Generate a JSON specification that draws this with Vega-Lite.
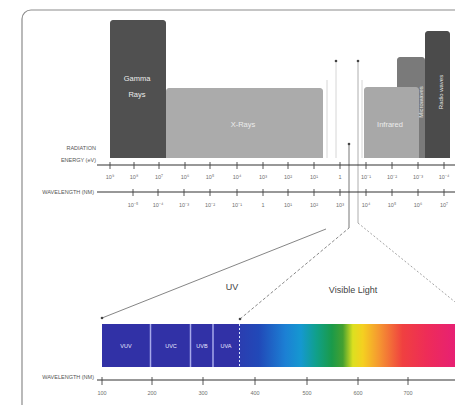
{
  "$schema": "https://vega.github.io/schema/vega-lite/v6.json",
  "width": 455,
  "height": 405,
  "autosize": "none",
  "padding": 0,
  "background": "white",
  "config": {"view": {"stroke": null}, "text": {"font": "Liberation Sans"}},
  "encoding": {
    "x": {"field": "x", "type": "quantitative", "scale": {"domain": [0, 455], "nice": false, "zero": false}, "axis": null},
    "y": {"field": "y", "type": "quantitative", "scale": {"domain": [0, 405], "nice": false, "zero": false, "reverse": true}, "axis": null}
  },
  "layer": [
    {
      "data": {"values": [{"x": 22, "x2": 485, "y": 10, "y2": 435}]},
      "mark": {"type": "rect", "fill": "white", "stroke": "#8c8c8c", "strokeWidth": 1.2, "cornerRadius": 9},
      "encoding": {"x2": {"field": "x2"}, "y2": {"field": "y2"}}
    },
    {
      "data": {"values": [
        {"x": 327, "y": 80, "y2": 158},
        {"x": 362, "y": 80, "y2": 158},
        {"x": 336, "y": 61, "y2": 158}
      ]},
      "mark": {"type": "rule", "color": "#d6d6d6", "strokeWidth": 1},
      "encoding": {"y2": {"field": "y2"}}
    },
    {
      "data": {"values": [
        {"band": "Radio waves", "x": 425, "x2": 450, "y": 31, "y2": 158},
        {"band": "Microwaves", "x": 397, "x2": 425, "y": 57, "y2": 158},
        {"band": "Infrared", "x": 364, "x2": 419, "y": 87, "y2": 158},
        {"band": "X-Rays", "x": 166, "x2": 323, "y": 88, "y2": 158},
        {"band": "Gamma Rays", "x": 110, "x2": 166, "y": 20, "y2": 158}
      ]},
      "mark": {"type": "rect", "cornerRadiusTopLeft": 3, "cornerRadiusTopRight": 3},
      "encoding": {
        "x2": {"field": "x2"},
        "y2": {"field": "y2"},
        "color": {"field": "band", "type": "nominal", "legend": null,
          "scale": {"domain": ["Gamma Rays", "X-Rays", "Infrared", "Microwaves", "Radio waves"],
                    "range": ["#505050", "#ababab", "#a8a8a8", "#7a7a7a", "#4b4b4b"]}}
      }
    },
    {
      "data": {"values": [
        {"x": 358, "y": 61, "y2": 223}
      ]},
      "mark": {"type": "rule", "color": "#999999", "strokeWidth": 0.8},
      "encoding": {"y2": {"field": "y2"}}
    },
    {
      "data": {"values": [
        {"x": 349, "y": 144, "y2": 228}
      ]},
      "mark": {"type": "rule", "color": "#666666", "strokeWidth": 0.9},
      "encoding": {"y2": {"field": "y2"}}
    },
    {
      "data": {"values": [
        {"x": 97, "x2": 455, "y": 165},
        {"x": 97, "x2": 455, "y": 192},
        {"x": 97, "x2": 455, "y": 380}
      ]},
      "mark": {"type": "rule", "color": "#333333", "strokeWidth": 1.1},
      "encoding": {"x2": {"field": "x2"}}
    },
    {
      "data": {"values": [
        {"x": 110, "y": 162, "y2": 169}, {"x": 134, "y": 162, "y2": 169}, {"x": 159, "y": 162, "y2": 169},
        {"x": 185, "y": 162, "y2": 169}, {"x": 210, "y": 162, "y2": 169}, {"x": 237, "y": 162, "y2": 169},
        {"x": 263, "y": 162, "y2": 169}, {"x": 288, "y": 162, "y2": 169}, {"x": 314, "y": 162, "y2": 169},
        {"x": 340, "y": 162, "y2": 169}, {"x": 366, "y": 162, "y2": 169}, {"x": 392, "y": 162, "y2": 169},
        {"x": 418, "y": 162, "y2": 169}, {"x": 444, "y": 162, "y2": 169},
        {"x": 133, "y": 189, "y2": 196}, {"x": 158, "y": 189, "y2": 196}, {"x": 184, "y": 189, "y2": 196},
        {"x": 210, "y": 189, "y2": 196}, {"x": 237, "y": 189, "y2": 196}, {"x": 263, "y": 189, "y2": 196},
        {"x": 288, "y": 189, "y2": 196}, {"x": 314, "y": 189, "y2": 196}, {"x": 340, "y": 189, "y2": 196},
        {"x": 366, "y": 189, "y2": 196}, {"x": 392, "y": 189, "y2": 196}, {"x": 418, "y": 189, "y2": 196},
        {"x": 444, "y": 189, "y2": 196},
        {"x": 102, "y": 377, "y2": 385}, {"x": 152, "y": 377, "y2": 385}, {"x": 203, "y": 377, "y2": 385},
        {"x": 255, "y": 377, "y2": 385}, {"x": 307, "y": 377, "y2": 385}, {"x": 358, "y": 377, "y2": 385},
        {"x": 408, "y": 377, "y2": 385}
      ]},
      "mark": {"type": "rule", "color": "#444444", "strokeWidth": 0.9},
      "encoding": {"y2": {"field": "y2"}}
    },
    {
      "data": {"values": [
        {"x": 110, "y": 177, "t": "10⁹"}, {"x": 134, "y": 177, "t": "10⁸"}, {"x": 159, "y": 177, "t": "10⁷"},
        {"x": 185, "y": 177, "t": "10⁶"}, {"x": 210, "y": 177, "t": "10⁵"}, {"x": 237, "y": 177, "t": "10⁴"},
        {"x": 263, "y": 177, "t": "10³"}, {"x": 288, "y": 177, "t": "10²"}, {"x": 314, "y": 177, "t": "10¹"},
        {"x": 340, "y": 177, "t": "1"}, {"x": 366, "y": 177, "t": "10⁻¹"}, {"x": 392, "y": 177, "t": "10⁻²"},
        {"x": 418, "y": 177, "t": "10⁻³"}, {"x": 444, "y": 177, "t": "10⁻⁴"},
        {"x": 133, "y": 205, "t": "10⁻⁵"}, {"x": 158, "y": 205, "t": "10⁻⁴"}, {"x": 184, "y": 205, "t": "10⁻³"},
        {"x": 210, "y": 205, "t": "10⁻²"}, {"x": 237, "y": 205, "t": "10⁻¹"}, {"x": 263, "y": 205, "t": "1"},
        {"x": 288, "y": 205, "t": "10¹"}, {"x": 314, "y": 205, "t": "10²"}, {"x": 340, "y": 205, "t": "10³"},
        {"x": 366, "y": 205, "t": "10⁴"}, {"x": 392, "y": 205, "t": "10⁵"}, {"x": 418, "y": 205, "t": "10⁶"},
        {"x": 444, "y": 205, "t": "10⁷"},
        {"x": 102, "y": 393, "t": "100"}, {"x": 152, "y": 393, "t": "200"}, {"x": 203, "y": 393, "t": "300"},
        {"x": 255, "y": 393, "t": "400"}, {"x": 307, "y": 393, "t": "500"}, {"x": 358, "y": 393, "t": "600"},
        {"x": 408, "y": 393, "t": "700"}
      ]},
      "mark": {"type": "text", "fontSize": 5.5, "color": "#707070", "baseline": "middle", "align": "center"},
      "encoding": {"text": {"field": "t"}}
    },
    {
      "data": {"values": [
        {"x": 96, "y": 148, "t": "RADIATION"},
        {"x": 96, "y": 160, "t": "ENERGY (eV)"},
        {"x": 94, "y": 192, "t": "WAVELENGTH (NM)"},
        {"x": 94, "y": 377, "t": "WAVELENGTH (NM)"}
      ]},
      "mark": {"type": "text", "fontSize": 5.5, "color": "#555555", "baseline": "middle", "align": "right"},
      "encoding": {"text": {"field": "t"}}
    },
    {
      "data": {"values": [
        {"x": 137, "y": 79, "t": "Gamma"},
        {"x": 137, "y": 95, "t": "Rays"},
        {"x": 243, "y": 125, "t": "X-Rays"},
        {"x": 390, "y": 125, "t": "Infrared"}
      ]},
      "mark": {"type": "text", "fontSize": 7.5, "color": "#ececec", "baseline": "middle", "align": "center"},
      "encoding": {"text": {"field": "t"}}
    },
    {
      "data": {"values": [
        {"x": 421, "y": 102, "t": "Microwaves"},
        {"x": 441, "y": 92, "t": "Radio waves"}
      ]},
      "mark": {"type": "text", "fontSize": 6, "color": "#e6e6e6", "baseline": "middle", "align": "center", "angle": 270},
      "encoding": {"text": {"field": "t"}}
    },
    {
      "data": {"values": [
        {"x": 102, "y": 318, "x2": 326, "y2": 229}
      ]},
      "mark": {"type": "rule", "color": "#777777", "strokeWidth": 0.9},
      "encoding": {"x2": {"field": "x2"}, "y2": {"field": "y2"}}
    },
    {
      "data": {"values": [
        {"x": 240, "y": 319, "x2": 349, "y2": 228}
      ]},
      "mark": {"type": "rule", "color": "#7a7a7a", "strokeWidth": 0.9, "strokeDash": [3, 2]},
      "encoding": {"x2": {"field": "x2"}, "y2": {"field": "y2"}}
    },
    {
      "data": {"values": [
        {"x": 358, "y": 223, "x2": 460, "y2": 306}
      ]},
      "mark": {"type": "rule", "color": "#9a9a9a", "strokeWidth": 0.9, "strokeDash": [2, 2]},
      "encoding": {"x2": {"field": "x2"}, "y2": {"field": "y2"}}
    },
    {
      "data": {"values": [
        {"x": 336, "y": 61}, {"x": 358, "y": 61}, {"x": 349, "y": 144}, {"x": 102, "y": 318}, {"x": 240, "y": 319}
      ]},
      "mark": {"type": "circle", "size": 7, "color": "#444444", "opacity": 1}
    },
    {
      "data": {"values": [
        {"x": 232, "y": 287, "t": "UV"},
        {"x": 353, "y": 290, "t": "Visible Light"}
      ]},
      "mark": {"type": "text", "fontSize": 9, "color": "#444444", "baseline": "middle", "align": "center"},
      "encoding": {"text": {"field": "t"}}
    },
    {
      "data": {"values": [
        {"x": 102, "x2": 239, "y": 324, "y2": 367}
      ]},
      "mark": {"type": "rect", "color": "#3131a6"},
      "encoding": {"x2": {"field": "x2"}, "y2": {"field": "y2"}}
    },
    {
      "data": {"values": [
        {"x": 239, "x2": 460, "y": 324, "y2": 367}
      ]},
      "mark": {"type": "rect", "fill": {
        "gradient": "linear", "x1": 0, "y1": 0, "x2": 1, "y2": 0,
        "stops": [
          {"offset": 0, "color": "#2b3db0"},
          {"offset": 0.09, "color": "#2149b8"},
          {"offset": 0.21, "color": "#1c80d4"},
          {"offset": 0.28, "color": "#1598d0"},
          {"offset": 0.35, "color": "#10a08a"},
          {"offset": 0.42, "color": "#1a9a4a"},
          {"offset": 0.47, "color": "#44a030"},
          {"offset": 0.515, "color": "#dce020"},
          {"offset": 0.56, "color": "#f5d020"},
          {"offset": 0.63, "color": "#f59a30"},
          {"offset": 0.74, "color": "#f04040"},
          {"offset": 0.85, "color": "#ee2c58"},
          {"offset": 1, "color": "#e61e78"}
        ]}},
      "encoding": {"x2": {"field": "x2"}, "y2": {"field": "y2"}}
    },
    {
      "data": {"values": [
        {"x": 150.5, "y": 324, "y2": 367},
        {"x": 190.5, "y": 324, "y2": 367},
        {"x": 213, "y": 324, "y2": 367}
      ]},
      "mark": {"type": "rule", "color": "#a6a8ea", "strokeWidth": 1.5},
      "encoding": {"y2": {"field": "y2"}}
    },
    {
      "data": {"values": [
        {"x": 239.5, "y": 324, "y2": 367}
      ]},
      "mark": {"type": "rule", "color": "#dde4ff", "strokeWidth": 1, "strokeDash": [2, 2]},
      "encoding": {"y2": {"field": "y2"}}
    },
    {
      "data": {"values": [
        {"x": 126, "y": 346, "t": "VUV"},
        {"x": 171, "y": 346, "t": "UVC"},
        {"x": 202, "y": 346, "t": "UVB"},
        {"x": 226, "y": 346, "t": "UVA"}
      ]},
      "mark": {"type": "text", "fontSize": 5.5, "color": "#e8e8ff", "baseline": "middle", "align": "center"},
      "encoding": {"text": {"field": "t"}}
    }
  ]
}
